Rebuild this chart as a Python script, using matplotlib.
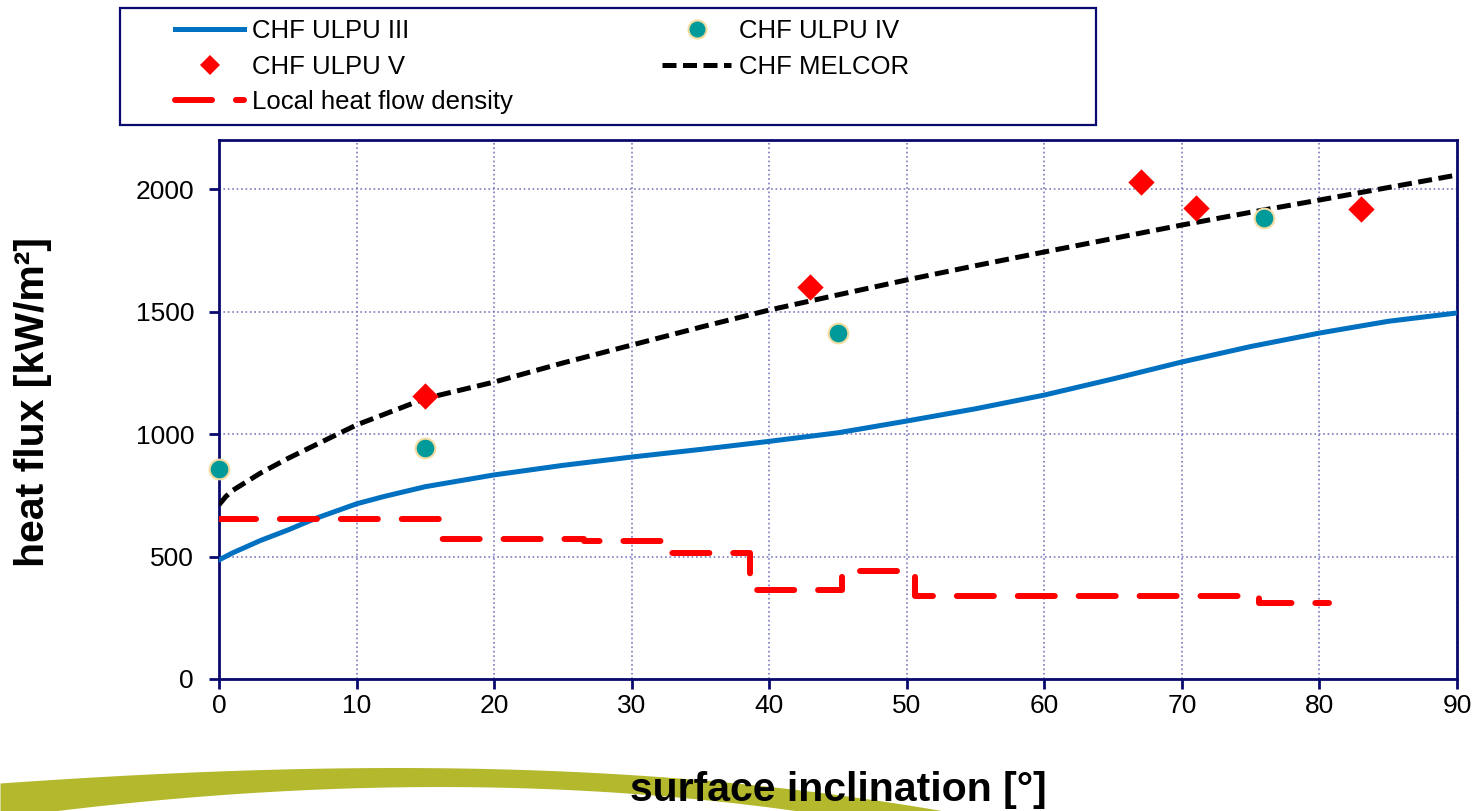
import numpy as np
import matplotlib.pyplot as plt
from matplotlib.lines import Line2D
from matplotlib.patches import Rectangle

plt.rcParams['font.family'] = ['Liberation Sans', 'DejaVu Sans']

## data
# CHF ULPU III (blue curve)
ulpu3_x = [0, 1, 2, 3, 5, 7, 10, 12, 15, 20, 25, 30, 35, 40, 45, 50, 55, 60, 65, 70, 75, 80, 85, 90]
ulpu3_y = [486, 515, 540, 565, 608, 655, 715, 745, 785, 833, 872, 906, 937, 970, 1005, 1053,
           1103, 1159, 1225, 1294, 1357, 1412, 1460, 1494]

# CHF MELCOR (black dashed)
melcor_x = [0, 0.5, 1, 2, 3, 5, 7, 10, 15, 20, 25, 30, 35, 40, 45, 50, 55, 60, 65, 70, 75, 80, 85, 90]
melcor_y = [711, 745, 770, 805, 840, 900, 955, 1037, 1145, 1212, 1290, 1363, 1436, 1506, 1568,
            1629, 1687, 1743, 1798, 1853, 1905, 1955, 2006, 2057]

# CHF ULPU IV (teal dots)
ulpu4_x = [0, 15, 45, 76]
ulpu4_y = [857, 944, 1413, 1883]

# CHF ULPU V (red diamonds)
ulpu5_x = [15, 43, 67, 71, 83]
ulpu5_y = [1157, 1601, 2030, 1921, 1920]

# local heat flow density (red step)
step_x = [0, 16.0, 26.5, 32.45, 38.6, 45.3, 50.6, 75.6, 80.7]
step_y = [655, 571, 564, 514, 362, 440, 340, 310, 310]

xticks = [0, 10, 20, 30, 40, 50, 60, 70, 80, 90]
yticks = [0, 500, 1000, 1500, 2000]

navy = '#0a0a6e'
blue = '#0070c0'
teal = '#009a9a'

fig = plt.figure(figsize=(14.73, 8.11), dpi=100)

## decorative leaf band at the bottom
bg = fig.add_axes([0, 0, 1, 1], zorder=-5)
bg.set_xlim(0, 1473)
bg.set_ylim(811, 0)
bg.axis('off')
bx = np.linspace(0, 1000, 60)
top = np.polyval(np.polyfit([0, 150, 330, 470, 620, 760, 845, 940],
                            [783, 774, 768, 767.5, 775, 786, 794, 811], 3), bx)
bot = np.polyval(np.polyfit([0, 150, 330, 470, 620, 760, 845],
                            [818, 800, 789, 787, 792, 806, 818], 3), bx)
bg.fill_between(bx, top, bot, color='#b3b82c', lw=0)

ax = fig.add_axes([219/1473, 1-679/811, (1457-219)/1473, (679-140)/811])

ax.plot(ulpu3_x, ulpu3_y, color=blue, lw=3.6, zorder=3)
ax.plot(melcor_x, melcor_y, color='black', lw=3.6, dashes=(2.8, 1.3), zorder=3)
ax.step(step_x, step_y, where='post', color='red', lw=4.3,
        dashes=(6.2, 4.0), dash_capstyle='round', zorder=3)
ax.scatter(ulpu4_x, ulpu4_y, s=200, color=teal, edgecolors='#f2dca0',
           linewidths=1.5, zorder=4, clip_on=False)
ax.scatter(ulpu5_x, ulpu5_y, s=180, marker='D', color='red', lw=0, zorder=4)

ax.set_xlim(0, 90)
ax.set_ylim(0, 2200)
ax.set_xticks(xticks)
ax.set_yticks(yticks)
ax.grid(True, color='#7a7ac0', ls=':', lw=1.2)
ax.set_axisbelow(True)
for s in ax.spines.values():
    s.set_color(navy)
    s.set_linewidth(2)
ax.tick_params(colors=navy, width=2, length=7, labelsize=19, labelcolor='black')
ax.tick_params(axis='y', pad=11)
ax.tick_params(axis='x', pad=4)

ax.set_xlabel('surface inclination [°]', fontsize=29.5, fontweight='bold')
ax.xaxis.set_label_coords((838-219)/(1457-219), -(771-679)/(679-140))
ax.set_ylabel('heat flux [kW/m²]', fontsize=29.5, fontweight='bold')
ax.yaxis.set_label_coords(-(219-52)/(1457-219), (679-402)/(679-140))

## legend with its own frame
fig.add_artist(Rectangle((120/1473, 1-125/811), 976/1473, 117/811,
                         transform=fig.transFigure, fill=False,
                         edgecolor=navy, lw=1.6))
h3 = Line2D([], [], color=blue, lw=3.6)
h5 = Line2D([], [], color='red', marker='D', ls='none', ms=10, mew=0)
hl = Line2D([], [], color='red', lw=4.3, dashes=(6.2, 4.0), dash_capstyle='round')
h4 = Line2D([], [], color=teal, marker='o', ls='none', ms=13,
            markeredgecolor='#f2dca0', mew=1.5)
hm = Line2D([], [], color='black', lw=3.6, dashes=(2.8, 1.3))
fig.legend([h3, h5, hl, h4, hm],
           ['CHF ULPU III', 'CHF ULPU V', 'Local heat flow density',
            'CHF ULPU IV', 'CHF MELCOR'],
           ncol=2, loc='upper left', bbox_to_anchor=(175/1473, 1-19/811),
           frameon=False, fontsize=18.5, handlelength=2.7, handletextpad=0.3,
           columnspacing=5.8, labelspacing=0.45, borderpad=0, borderaxespad=0)

fig.savefig('out.png', dpi=100)
